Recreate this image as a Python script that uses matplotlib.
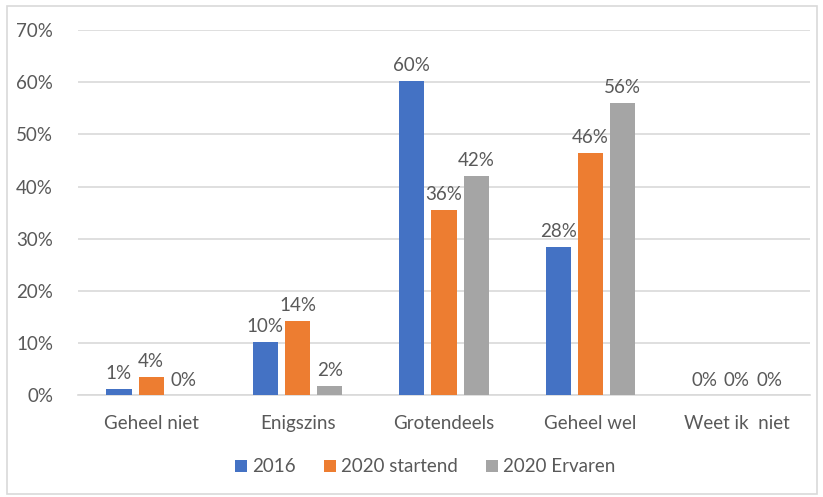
import numpy as np
import matplotlib.pyplot as plt
from matplotlib.patches import Rectangle

categories = ["Geheel niet", "Enigszins", "Grotendeels", "Geheel wel", "Weet ik  niet"]
series = ["2016", "2020 startend", "2020 Ervaren"]
v2016 = [1.2, 10.2, 60.2, 28.4, 0.0]
v2020_start = [3.5, 14.2, 35.6, 46.4, 0.0]
v2020_erv = [0.0, 1.8, 42.1, 56.1, 0.0]
colors = ["#4472C4", "#ED7D31", "#A5A5A5"]
text_col = "#595959"

plt.rcParams['font.family'] = ['Lato', 'DejaVu Sans']
fs = 13.5

fig = plt.figure(figsize=(8.23, 4.97), dpi=100)
ax = fig.add_axes([78 / 823, 1 - 395.3 / 497, 732 / 823, (395.3 - 30) / 497])

x = np.arange(len(categories))
width = 0.172
step = 0.22
for i, (vals, name) in enumerate(zip([v2016, v2020_start, v2020_erv], series)):
    pos = x + (i - 1) * step
    ax.bar(pos, vals, width, color=colors[i], label=name, zorder=3)
    for xp, v in zip(pos, vals):
        ax.text(xp, v + 1.3, f"{v:.0f}%", ha="center", va="bottom",
                fontsize=fs, color=text_col)

ax.set_xlim(-0.5, len(categories) - 0.5)
ax.set_ylim(0, 70)
ax.set_yticks(range(0, 71, 10))
ax.set_yticklabels([f"{t}%" for t in range(0, 71, 10)])
ax.set_xticks(x)
ax.set_xticklabels(categories)
ax.yaxis.grid(True, color="#D9D9D9", linewidth=1.2, zorder=0)
for s in ["top", "right", "left"]:
    ax.spines[s].set_visible(False)
ax.spines["bottom"].set_color("#D9D9D9")
ax.spines["bottom"].set_linewidth(1.2)
ax.tick_params(axis="both", length=0, colors=text_col, labelsize=fs)
ax.tick_params(axis="y", pad=18)
ax.tick_params(axis="x", pad=14)

fig.legend(loc="center", bbox_to_anchor=(425 / 823, 1 - 467 / 497), ncol=3,
           frameon=False, fontsize=fs, labelcolor=text_col,
           handlelength=0.65, handleheight=0.65, handletextpad=0.25, columnspacing=1.5)

fig.patches.append(Rectangle((7 / 823, 3 / 497), 810 / 823, 488 / 497,
                             transform=fig.transFigure, fill=False,
                             edgecolor="#D9D9D9", linewidth=1.2))

fig.savefig("out.png", dpi=100)
